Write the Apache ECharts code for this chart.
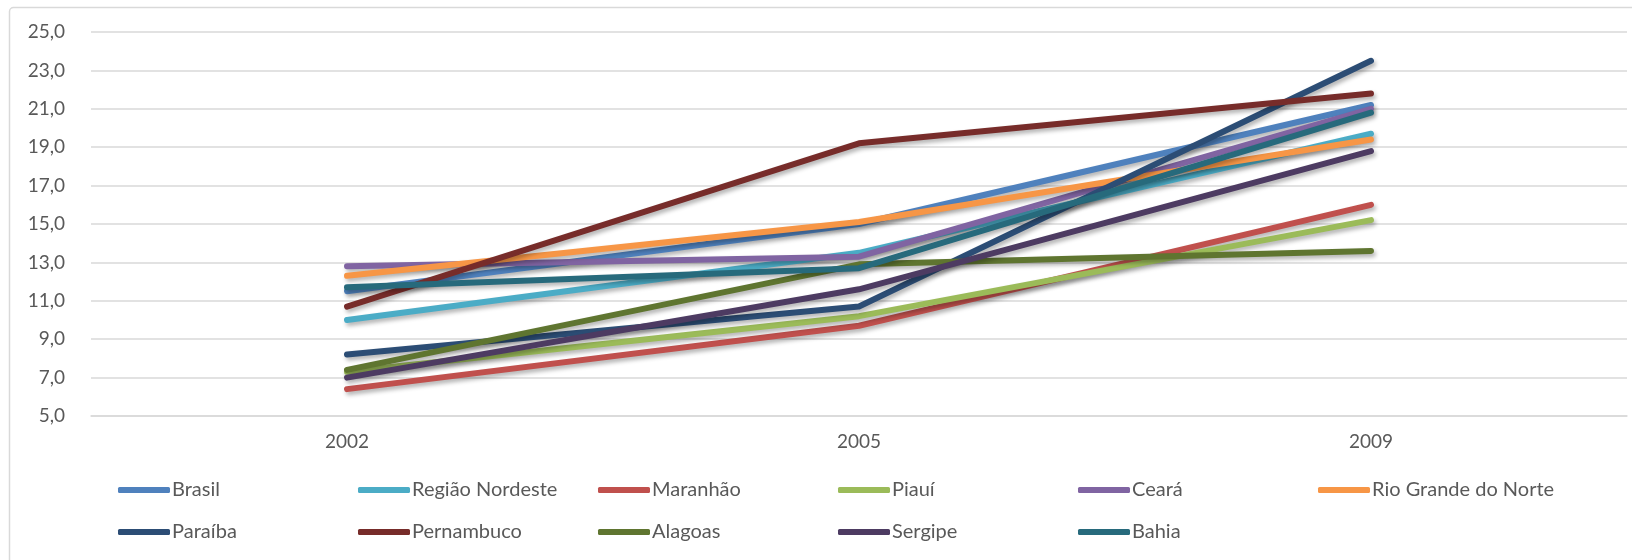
<!DOCTYPE html>
<html>
<head>
<meta charset="utf-8">
<script src="https://cdn.jsdelivr.net/npm/echarts@6/dist/echarts.min.js"></script>
<style>
html,body{margin:0;padding:0;background:#fff;}
#chart{width:1632px;height:560px;}
</style>
</head>
<body>
<div id="chart"></div>
<script>
const categories = ['2002', '2005', '2009'];
const seriesNames = ['Brasil', 'Região Nordeste', 'Maranhão', 'Piauí', 'Ceará', 'Rio Grande do Norte',
                     'Paraíba', 'Pernambuco', 'Alagoas', 'Sergipe', 'Bahia'];
const brasil = [11.5, 15.0, 21.2];
const regiaoNordeste = [10.0, 13.5, 19.7];
const maranhao = [6.4, 9.7, 16.0];
const piaui = [7.3, 10.2, 15.2];
const ceara = [12.8, 13.3, 21.0];
const rioGrandeDoNorte = [12.3, 15.1, 19.4];
const paraiba = [8.2, 10.7, 23.5];
const pernambuco = [10.7, 19.2, 21.8];
const alagoas = [7.4, 12.9, 13.6];
const sergipe = [7.0, 11.6, 18.8];
const bahia = [11.7, 12.7, 20.8];
const seriesValues = [brasil, regiaoNordeste, maranhao, piaui, ceara, rioGrandeDoNorte,
                      paraiba, pernambuco, alagoas, sergipe, bahia];
const colors = ['#4F81BD', '#4BACC6', '#C0504D', '#9BBB59', '#8064A2', '#F79646',
                '#2C4D75', '#772C2A', '#5F7530', '#4D3B62', '#276A7C'];
const yTicks = {min: 5, max: 25, interval: 2};

const FONT = 'Lato, "Liberation Sans", sans-serif';
const chart = echarts.init(document.getElementById('chart'), null, {renderer: 'canvas'});

const legends = [];
for (let k = 0; k < 6; k++) {
  const data = [seriesNames[k]];
  if (seriesNames[k + 6]) data.push(seriesNames[k + 6]);
  legends.push({
    orient: 'vertical',
    left: 118 + 240 * k,
    top: 480,
    padding: 0,
    itemWidth: 52,
    itemHeight: 6,
    itemGap: 22,
    icon: 'roundRect',
    selectedMode: false,
    data: data,
    textStyle: {color: '#595959', fontSize: 20, fontFamily: FONT, padding: [0, 0, 0, -3]}
  });
}

const option = {
  backgroundColor: '#ffffff',
  animation: false,
  color: colors,
  graphic: [{
    type: 'rect',
    left: 7, top: 5,
    shape: {width: 1700, height: 600, r: 4},
    style: {fill: 'none', stroke: '#D9D9D9', lineWidth: 1.5},
    silent: true,
    z: -10
  }],
  grid: {left: 91, right: 5, top: 32, bottom: 144, containLabel: false},
  legend: legends,
  xAxis: {
    type: 'category',
    data: categories,
    boundaryGap: true,
    axisLine: {show: true, lineStyle: {color: '#D9D9D9', width: 1.5}},
    axisTick: {show: false},
    axisLabel: {color: '#595959', fontSize: 19, fontFamily: FONT, margin: 16},
    splitLine: {show: false}
  },
  yAxis: {
    type: 'value',
    min: yTicks.min,
    max: yTicks.max,
    interval: yTicks.interval,
    axisLine: {show: false},
    axisTick: {show: false},
    axisLabel: {
      color: '#595959', fontSize: 19, fontFamily: FONT, margin: 26,
      formatter: v => v.toFixed(1).replace('.', ',')
    },
    splitLine: {lineStyle: {color: '#D9D9D9', width: 1.5}}
  },
  series: seriesNames.map((name, i) => ({
    name: name,
    type: 'line',
    data: seriesValues[i],
    symbol: 'none',
    showSymbol: false,
    lineStyle: {
      width: 6, color: colors[i], cap: 'round', join: 'round',
      shadowColor: 'rgba(0,0,0,0.3)', shadowBlur: 4, shadowOffsetX: 2, shadowOffsetY: 3
    },
    itemStyle: {color: colors[i]},
    emphasis: {disabled: true}
  }))
};
chart.setOption(option);
</script>
</body>
</html>
